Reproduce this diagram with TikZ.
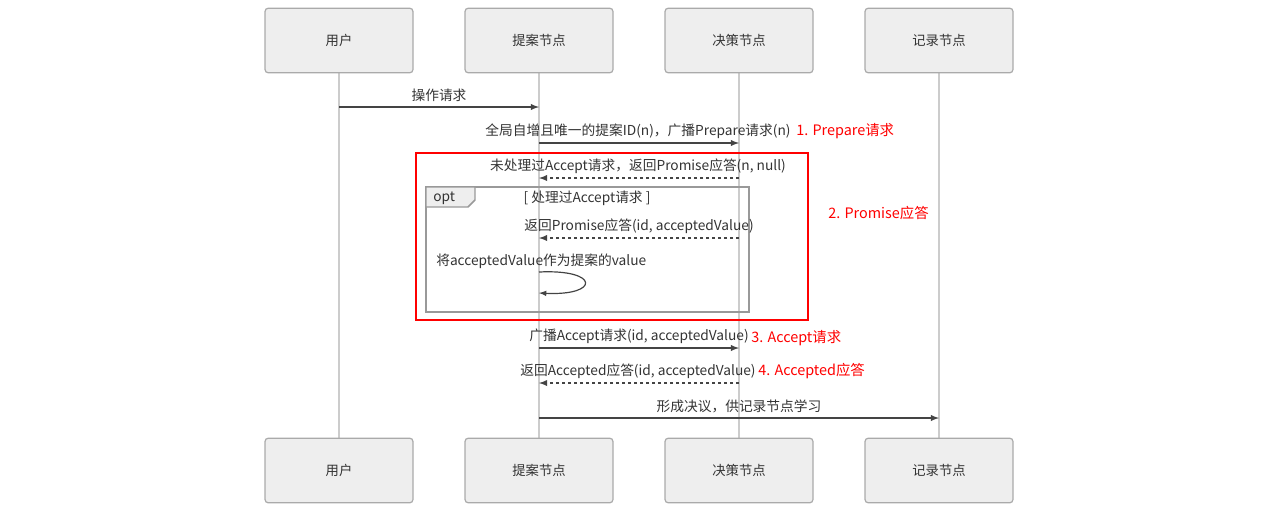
\documentclass[tikz,border=0pt]{standalone}
\usepackage{fontspec}
\setmainfont{Noto Sans CJK SC}
\usepackage{tikz}

\definecolor{boxfill}{HTML}{EEEEEE}
\definecolor{boxline}{HTML}{AAAAAA}
\definecolor{optline}{HTML}{999999}
\definecolor{lifeline}{HTML}{CCCCCC}
\definecolor{msgline}{HTML}{444444}
\definecolor{txt}{HTML}{333333}

\begin{document}
\begin{tikzpicture}[x=0.75pt, y=-0.75pt]

    \tikzstyle{actor} = [draw=boxline, fill=boxfill, rounded corners=2.5pt,
        line width=0.9pt, minimum width=111pt, minimum height=48.5pt,
        font=\fontsize{10}{11}\selectfont, text=txt]
    \tikzstyle{msg} = [draw=msgline, line width=1.1pt, -latex]
    \tikzstyle{reply} = [msg, dash pattern=on 2.5pt off 2pt]
    \tikzstyle{lbl} = [font=\fontsize{10.3}{12}\selectfont, text=txt, inner sep=0pt]
    \tikzstyle{note} = [font=\fontsize{10.8}{12}\selectfont, text=red, inner sep=0pt, anchor=west]

    \useasboundingbox (0,0) rectangle (1275,519);

    % participants, top and bottom
    \foreach \name/\txt/\x in {user/用户/339, prop/提案节点/539, acc/决策节点/739, lrn/记录节点/939} {
        \draw[lifeline, line width=1.5pt] (\x,73) -- (\x,438);
        \node[actor] (\name-top) at (\x,40.5) {\txt};
        \node[actor] (\name-bot) at (\x,470.5) {\txt};
    }

    % message end points on the lifelines
    \foreach \y/\n in {107/a, 143/b, 178/c, 238/d, 272/e, 293/f, 348/g, 383/h, 418/i} {
        \coordinate (user-\n) at (339,\y);
        \coordinate (prop-\n) at (539,\y);
        \coordinate (acc-\n) at (739,\y);
        \coordinate (lrn-\n) at (939,\y);
    }

    % Prepare
    \draw[msg] (user-a) -- (prop-a);
    \node[lbl] (req) at (439,95) {操作请求};
    \draw[msg] (prop-b) -- (acc-b);
    \node[lbl] (prep) at (638,131) {全局自增且唯一的提案ID(n)，广播Prepare请求(n)};
    \node[note] (step1) at (796,131) {1. Prepare请求};

    % Promise
    \draw[red, line width=1.3pt] (416,153) rectangle (808,320);
    \draw[reply] (acc-c) -- (prop-c);
    \node[lbl] (prom) at (638,166) {未处理过Accept请求，返回Promise应答(n, null)};

    \draw[optline, line width=1.1pt] (426,187) rectangle (749,312);
    \draw[optline, fill=boxfill, line width=1.1pt] (426,187) -- (475,187) -- (475,200)
        -- (468,207) -- (426,207) -- cycle;
    \node[lbl, anchor=west] (opt) at (433,198) {opt};
    \node[lbl] (cond) at (587,198) {[ 处理过Accept请求 ]};

    \draw[reply] (acc-d) -- (prop-d);
    \node[lbl] (promv) at (639,226) {返回Promise应答(id, acceptedValue)};
    \node[lbl, anchor=west] (self) at (436,261) {将acceptedValue作为提案的value};
    \draw[msg, line width=0.9pt] (prop-e) .. controls (600,269) and (600,296) .. (prop-f);
    \node[note] (step2) at (828,213) {2. Promise应答};

    % Accept
    \draw[msg] (prop-g) -- (acc-g);
    \node[lbl] (accq) at (639,336) {广播Accept请求(id, acceptedValue)};
    \node[note] (step3) at (751,338) {3. Accept请求};
    \draw[reply] (acc-h) -- (prop-h);
    \node[lbl] (accd) at (638,371) {返回Accepted应答(id, acceptedValue)};
    \node[note] (step4) at (758,371) {4. Accepted应答};

    % learn
    \draw[msg] (prop-i) -- (lrn-i);
    \node[lbl] (learn) at (739,406) {形成决议，供记录节点学习};

\end{tikzpicture}
\end{document}
